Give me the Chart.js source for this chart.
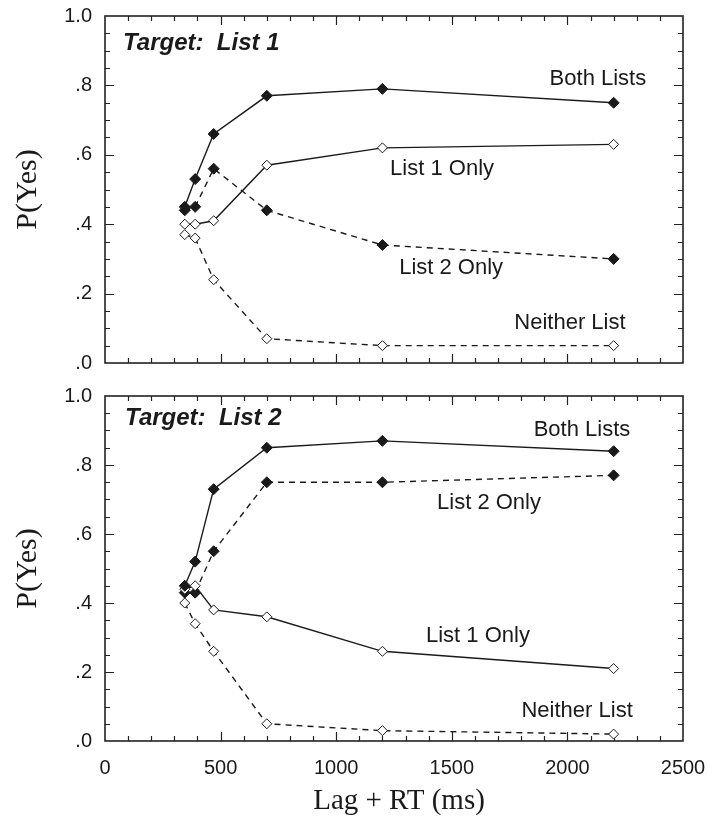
<!DOCTYPE html>
<html>
<head>
<meta charset="utf-8">
<script src="https://cdn.jsdelivr.net/npm/chart.js@4.4.1/dist/chart.umd.min.js"></script>
<style>
  body { margin: 0; background: #fff; }
  #wrap { position: relative; width: 708px; height: 823px; }
  canvas { position: absolute; left: 0; }
  #top { top: 0; }
  #bottom { top: 380px; }
</style>
</head>
<body>
<div id="wrap">
  <canvas id="top" width="708" height="390"></canvas>
  <canvas id="bottom" width="708" height="443"></canvas>
</div>
<script>
// lag + RT in ms, shared by every series
const lagRT = [345, 390, 470, 700, 1200, 2200];

// Target: List 1
const t1Both = [0.45, 0.53, 0.66, 0.77, 0.79, 0.75];
const t1List1Only = [0.40, 0.40, 0.41, 0.57, 0.62, 0.63];
const t1List2Only = [0.44, 0.45, 0.56, 0.44, 0.34, 0.30];
const t1Neither = [0.37, 0.36, 0.24, 0.07, 0.05, 0.05];

// Target: List 2
const t2Both = [0.45, 0.52, 0.73, 0.85, 0.87, 0.84];
const t2List2Only = [0.43, 0.43, 0.55, 0.75, 0.75, 0.77];
const t2List1Only = [0.44, 0.45, 0.38, 0.36, 0.26, 0.21];
const t2Neither = [0.40, 0.34, 0.26, 0.05, 0.03, 0.02];

const yTickLabels = ['.0', '.2', '.4', '.6', '.8', '1.0'];
const xTickLabels = ['0', '500', '1000', '1500', '2000', '2500'];

const ink = '#1a1a1a';
const sans = '"Liberation Sans", Arial, sans-serif';
const serif = '"Liberation Serif", "Times New Roman", serif';

function series(label, values, filled, dashed) {
    return {
        label,
        data: lagRT.map((t, i) => ({ x: t, y: values[i] })),
        borderColor: ink,
        borderWidth: 1.4,
        borderDash: dashed ? [6, 5] : [],
        pointStyle: 'rectRot',
        pointRadius: filled ? 5.5 : 5,
        pointBackgroundColor: filled ? ink : '#fff',
        pointBorderColor: ink,
        pointBorderWidth: 1,
        tension: 0,
        fill: false
    };
}

// box round the plot with ticks pointing inward on all four sides
const frame = {
    id: 'frame',
    beforeDatasetsDraw(chart) {
        const { ctx, chartArea: a, scales: { x, y } } = chart;
        ctx.save();
        ctx.strokeStyle = '#222';
        ctx.lineWidth = 1.2;
        ctx.beginPath();
        for (let v = 100; v < 2500; v += 100) {
            const px = Math.round(x.getPixelForValue(v)) + 0.5;
            const len = v % 500 === 0 ? 9 : 5;
            ctx.moveTo(px, a.top); ctx.lineTo(px, a.top + len);
            ctx.moveTo(px, a.bottom); ctx.lineTo(px, a.bottom - len);
        }
        for (let i = 1; i < 20; i++) {
            const py = Math.round(y.getPixelForValue(i * 0.05)) + 0.5;
            const len = i % 4 === 0 ? 9 : 5;
            ctx.moveTo(a.left, py); ctx.lineTo(a.left + len, py);
            ctx.moveTo(a.right, py); ctx.lineTo(a.right - len, py);
        }
        ctx.stroke();
        ctx.lineWidth = 1.6;
        ctx.strokeRect(a.left, a.top, a.right - a.left, a.bottom - a.top);
        ctx.restore();
    }
};

// curve labels and axis titles
const notes = {
    id: 'notes',
    afterDraw(chart, args, opts) {
        const { ctx, chartArea: a, scales: { x, y } } = chart;
        ctx.save();
        ctx.fillStyle = ink;
        ctx.textBaseline = 'middle';
        opts.items.forEach(n => {
            ctx.font = n.font;
            ctx.textAlign = n.align || 'center';
            ctx.fillText(n.text, x.getPixelForValue(n.x), y.getPixelForValue(n.y));
        });
        if (opts.xTitle) {
            ctx.font = '29px ' + serif;
            ctx.textAlign = 'center';
            ctx.fillText(opts.xTitle, (a.left + a.right) / 2 + 5, opts.xTitleY);
        }
        ctx.translate(28, (a.top + a.bottom) / 2);
        ctx.rotate(-Math.PI / 2);
        ctx.font = '30px ' + serif;
        ctx.textAlign = 'center';
        ctx.fillText('P(Yes)', 0, 0);
        ctx.restore();
    }
};

function makeChart(id, datasets, items, showX, xHeight) {
    return new Chart(document.getElementById(id), {
        type: 'line',
        data: { datasets },
        plugins: [frame, notes],
        options: {
            responsive: false,
            animation: false,
            devicePixelRatio: 1,
            layout: { padding: { top: 16, right: 25, left: 0, bottom: 0 } },
            plugins: {
                legend: { display: false },
                tooltip: { enabled: false },
                notes: { items, xTitle: showX ? 'Lag + RT (ms)' : null, xTitleY: 421 }
            },
            scales: {
                x: {
                    type: 'linear', min: 0, max: 2500,
                    grid: { display: false, drawTicks: false },
                    border: { display: false },
                    afterFit: s => { s.height = xHeight; s.paddingLeft = 0; s.paddingRight = 0; },
                    ticks: {
                        display: showX, stepSize: 500, padding: 15,
                        color: ink, font: { family: sans, size: 20 },
                        callback: (v) => xTickLabels[v / 500]
                    }
                },
                y: {
                    min: 0, max: 1,
                    grid: { display: false, drawTicks: false },
                    border: { display: false },
                    afterFit: s => { s.width = 105; s.paddingTop = 0; s.paddingBottom = 0; },
                    ticks: {
                        stepSize: 0.2, padding: 13,
                        color: ink, font: { family: sans, size: 20 },
                        callback: (v) => yTickLabels[Math.round(v * 5)]
                    }
                }
            }
        }
    });
}

const labelFont = '22px ' + sans;
const headFont = 'italic bold 24px ' + sans;

makeChart('top', [
    series('Both Lists', t1Both, true, false),
    series('List 1 Only', t1List1Only, false, false),
    series('List 2 Only', t1List2Only, true, true),
    series('Neither List', t1Neither, false, true)
], [
    { text: 'Target:  List 1', x: 78, y: 0.922, font: headFont, align: 'left' },
    { text: 'Both Lists', x: 2132, y: 0.818, font: labelFont },
    { text: 'List 1 Only', x: 1458, y: 0.559, font: labelFont },
    { text: 'List 2 Only', x: 1497, y: 0.274, font: labelFont },
    { text: 'Neither List', x: 2011, y: 0.115, font: labelFont }
], false, 27);

makeChart('bottom', [
    series('Both Lists', t2Both, true, false),
    series('List 1 Only', t2List1Only, false, false),
    series('List 2 Only', t2List2Only, true, true),
    series('Neither List', t2Neither, false, true)
], [
    { text: 'Target:  List 2', x: 87, y: 0.936, font: headFont, align: 'left' },
    { text: 'Both Lists', x: 2063, y: 0.901, font: labelFont },
    { text: 'List 2 Only', x: 1661, y: 0.69, font: labelFont },
    { text: 'List 1 Only', x: 1613, y: 0.304, font: labelFont },
    { text: 'Neither List', x: 2042, y: 0.087, font: labelFont }
], true, 82);
</script>
</body>
</html>
